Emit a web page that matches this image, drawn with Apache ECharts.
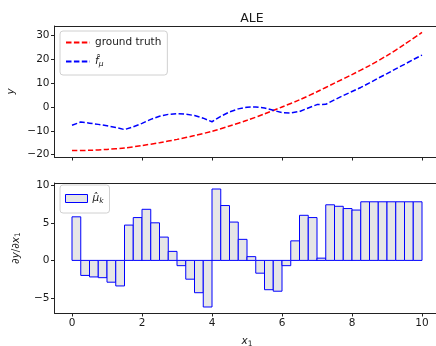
<!DOCTYPE html>
<html>
<head>
<meta charset="utf-8">
<script src="https://cdn.jsdelivr.net/npm/echarts@6/dist/echarts.min.js"></script>
<style>
  html, body { margin: 0; padding: 0; background: #fff; }
  #main { width: 436px; height: 346px; }
</style>
</head>
<body>
<div id="main"></div>
<script>
// ground truth, sampled every 0.5
var truthX = [0, 0.5, 1, 1.5, 2, 2.5, 3, 3.5, 4, 4.5, 5, 5.5, 6, 6.5, 7, 7.5, 8, 8.5, 9, 9.5, 10];
var truthY = [-18.3, -18.2, -17.8, -17.2, -16.2, -15.0, -13.6, -12.0, -10.2, -8.0, -5.6, -2.9, 0.0, 3.0, 6.4, 10.0, 13.6, 17.4, 21.6, 26.3, 31.3];

// bin edges of the ALE estimate
var binEdges = [0, 0.25, 0.5, 0.75, 1, 1.25, 1.5, 1.75, 2, 2.25, 2.5, 2.75, 3, 3.25, 3.5, 3.75,
    4, 4.25, 4.5, 4.75, 5, 5.25, 5.5, 5.75, 6, 6.25, 6.5, 6.75, 7, 7.25, 7.5, 7.75,
    8, 8.25, 8.5, 8.75, 9, 9.25, 9.5, 9.75, 10];

// f_mu at the bin edges
var fMu = [-7.7, -6.3, -6.8, -7.3, -7.9, -8.6, -9.5, -8.3, -6.9, -5.2, -3.9, -3.1, -2.8, -3.0, -3.6, -4.7,
    -6.2, -3.9, -2.1, -0.8, -0.1, 0.0, -0.4, -1.4, -2.4, -2.5, -1.9, -0.4, 1.0, 1.1, 3.0, 4.8,
    6.5, 8.2, 10.1, 12.1, 14.0, 16.0, 17.9, 19.9, 21.8];

// mu_k per bin (40 bins)
var muK = [5.8, -2.0, -2.2, -2.3, -2.9, -3.4, 4.7, 5.7, 6.8, 5.0, 3.1, 1.2,
    -0.7, -2.5, -4.3, -6.2, 9.5, 7.3, 5.1, 2.8, 0.5, -1.7, -3.9, -4.1,
    -0.7, 2.6, 6.0, 5.7, 0.3, 7.4, 7.2, 6.9, 6.7, 7.8, 7.8, 7.8, 7.8, 7.8, 7.8, 7.8];

var xTicks = [0, 2, 4, 6, 8, 10];
var yTicksTop = [-20, -10, 0, 10, 20, 30];
var yTicksBottom = [-5, 0, 5, 10];

var truthData = [];
for (var i = 0; i < truthX.length; i++) {
    truthData.push([truthX[i], truthY[i]]);
}
var fMuData = [];
for (var i = 0; i < binEdges.length; i++) {
    fMuData.push([binEdges[i], fMu[i]]);
}
var barData = [];
for (var i = 0; i < muK.length; i++) {
    barData.push([binEdges[i], binEdges[i + 1], muK[i]]);
}

var font = 'DejaVu Sans';
var fs = 10.5;
var textColor = '#1a1a1a';
var axisColor = '#222';

var mathRich = {
    n: {fontFamily: font, fontSize: fs, color: textColor},
    i: {fontFamily: font, fontStyle: 'italic', fontSize: fs, color: textColor},
    s: {fontFamily: font, fontSize: 7.5, color: textColor, padding: [5, 0, 0, 0]},
    si: {fontFamily: font, fontStyle: 'italic', fontSize: 7.5, color: textColor, padding: [5, 0, 0, 0]}
};

function xAxisOf(gridIndex, showLabels) {
    return {
        type: 'value',
        gridIndex: gridIndex,
        min: -0.5,
        max: 10.5,
        axisLine: {show: true, onZero: false, lineStyle: {color: axisColor, width: 1}},
        axisTick: {show: true, length: 3.5, customValues: xTicks, lineStyle: {color: axisColor}},
        axisLabel: {show: showLabels, customValues: xTicks, color: textColor, fontFamily: font, fontSize: fs, margin: 5},
        splitLine: {show: false},
        name: showLabels ? '{i|x}{s|1}' : '',
        nameLocation: 'middle',
        nameGap: 22,
        nameTextStyle: {rich: mathRich}
    };
}

// top spine only (the right spine falls outside the picture)
function topSpine(gridIndex) {
    return {
        type: 'value',
        gridIndex: gridIndex,
        position: 'top',
        min: -0.5,
        max: 10.5,
        axisLine: {show: true, onZero: false, lineStyle: {color: axisColor, width: 1}},
        axisTick: {show: false},
        axisLabel: {show: false},
        splitLine: {show: false}
    };
}

function minusSign(v) {
    return String(v).replace('-', '\u2212');
}

var option = {
    animation: false,
    backgroundColor: '#fff',
    title: {
        text: 'ALE',
        left: 247,
        top: 7,
        textAlign: 'center',
        textStyle: {fontFamily: font, fontSize: 12.5, fontWeight: 'normal', color: textColor}
    },
    grid: [
        {left: 54.5, top: 26, width: 385, height: 131, outerBoundsMode: 'none'},
        {left: 54.5, top: 183, width: 385, height: 130, outerBoundsMode: 'none'}
    ],
    legend: [
        {
            orient: 'vertical',
            left: 60,
            top: 31,
            padding: [6, 6, 7, 5],
            itemGap: 8,
            itemWidth: 24,
            itemHeight: 10,
            backgroundColor: 'rgba(255,255,255,0.8)',
            borderColor: '#d0d0d0',
            borderWidth: 1,
            borderRadius: 3,
            itemStyle: {color: 'transparent', borderWidth: 0, opacity: 0},
            data: ['ground truth', 'f_mu'],
            formatter: function (name) {
                return name === 'f_mu' ? '{i|f\u0302}{si|\u03bc}' : name;
            },
            textStyle: {fontFamily: font, fontSize: fs, color: textColor, rich: mathRich}
        },
        {
            left: 60,
            top: 185,
            padding: [8, 6, 8, 5],
            itemWidth: 22,
            itemHeight: 8,
            backgroundColor: 'rgba(255,255,255,0.8)',
            borderColor: '#d0d0d0',
            borderWidth: 1,
            borderRadius: 3,
            data: [{
                name: 'mu_k',
                icon: 'rect',
                itemStyle: {color: '#e6e6e6', borderColor: '#0000ff', borderWidth: 1}
            }],
            formatter: function () {
                return '{i|\u03bc\u0302}{si|k}';
            },
            textStyle: {fontFamily: font, fontSize: fs, color: textColor, rich: mathRich}
        }
    ],
    xAxis: [xAxisOf(0, false), xAxisOf(1, true), topSpine(0), topSpine(1)],
    yAxis: [
        {
            type: 'value',
            gridIndex: 0,
            min: -21,
            max: 34,
            axisLine: {show: true, onZero: false, lineStyle: {color: axisColor, width: 1}},
            axisTick: {show: true, length: 3.5, customValues: yTicksTop, lineStyle: {color: axisColor}},
            axisLabel: {customValues: yTicksTop, color: textColor, fontFamily: font, fontSize: fs, margin: 5,
                formatter: minusSign},
            splitLine: {show: false},
            name: 'y',
            nameLocation: 'middle',
            nameGap: 38,
            nameTextStyle: {fontFamily: font, fontStyle: 'italic', fontSize: fs, color: textColor}
        },
        {
            type: 'value',
            gridIndex: 1,
            min: -7,
            max: 10.3,
            axisLine: {show: true, onZero: false, lineStyle: {color: axisColor, width: 1}},
            axisTick: {show: true, length: 3.5, customValues: yTicksBottom, lineStyle: {color: axisColor}},
            axisLabel: {customValues: yTicksBottom, color: textColor, fontFamily: font, fontSize: fs, margin: 5,
                formatter: minusSign},
            splitLine: {show: false},
            name: '{n|\u2202}{i|y}{n|/\u2202}{i|x}{s|1}',
            nameLocation: 'middle',
            nameGap: 32,
            nameTextStyle: {rich: mathRich}
        }
    ],
    series: [
        {
            name: 'ground truth',
            type: 'line',
            xAxisIndex: 0,
            yAxisIndex: 0,
            data: truthData,
            smooth: 0.3,
            showSymbol: false,
            symbol: 'none',
            lineStyle: {color: '#ff0000', width: 1.5, type: [5.5, 2.4]},
            itemStyle: {color: '#ff0000'}
        },
        {
            name: 'f_mu',
            type: 'line',
            xAxisIndex: 0,
            yAxisIndex: 0,
            data: fMuData,
            showSymbol: false,
            symbol: 'none',
            lineStyle: {color: '#0000ff', width: 1.5, type: [5.5, 2.4]},
            itemStyle: {color: '#0000ff'}
        },
        {
            name: 'mu_k',
            type: 'custom',
            xAxisIndex: 1,
            yAxisIndex: 1,
            data: barData,
            encode: {x: [0, 1], y: 2},
            renderItem: function (params, api) {
                var p0 = api.coord([api.value(0), 0]);
                var p1 = api.coord([api.value(1), api.value(2)]);
                return {
                    type: 'rect',
                    shape: {
                        x: p0[0],
                        y: Math.min(p0[1], p1[1]),
                        width: p1[0] - p0[0],
                        height: Math.abs(p1[1] - p0[1])
                    },
                    style: {fill: '#e6e6e6', stroke: '#0000ff', lineWidth: 1}
                };
            }
        }
    ]
};

var myChart = echarts.init(document.getElementById('main'));
myChart.setOption(option);
</script>
</body>
</html>
